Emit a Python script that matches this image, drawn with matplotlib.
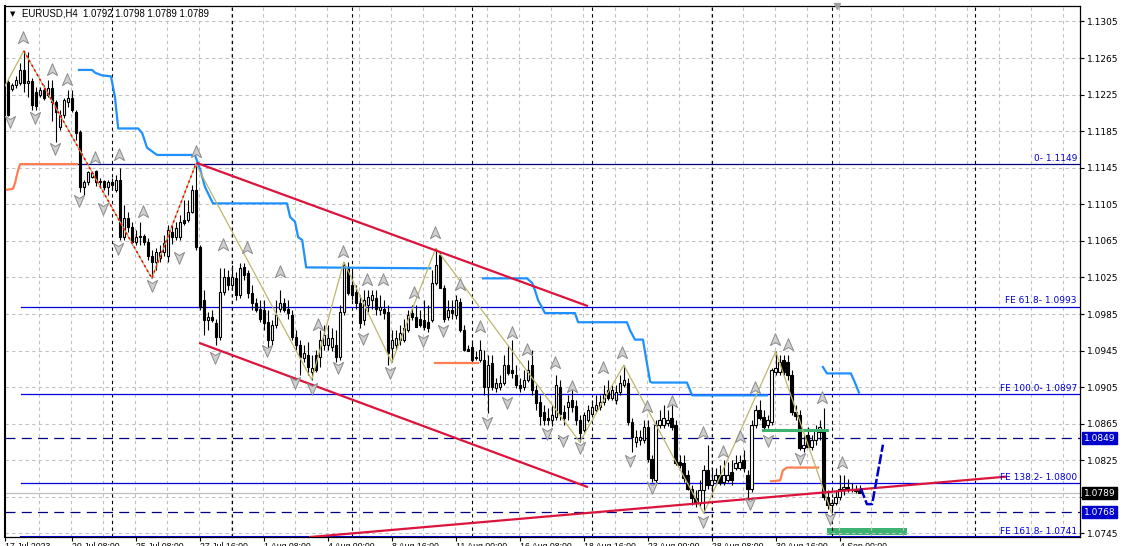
import numpy as np
import matplotlib
matplotlib.use("Agg")
import matplotlib.pyplot as plt
from matplotlib.path import Path
import matplotlib.transforms as mtransforms

W, H = 1122, 546

# ---- EURUSD H4 bars (17 Jul - 4 Sep 2023) ----
opens = [
    1.1239, 1.1231, 1.1235, 1.1238, 1.1252, 1.1238, 1.1240, 1.1228, 1.1225, 1.1230,
    1.1225, 1.1232, 1.1217, 1.1190, 1.1203, 1.1217, 1.1221, 1.1206, 1.1184, 1.1124,
    1.1129, 1.1135, 1.1141, 1.1129, 1.1130, 1.1124, 1.1129, 1.1121, 1.1132, 1.1069,
    1.1090, 1.1080, 1.1064, 1.1069, 1.1070, 1.1064, 1.1048, 1.1042, 1.1046, 1.1053,
    1.1048, 1.1075, 1.1069, 1.1069, 1.1088, 1.1088, 1.1097, 1.1121, 1.1058, 1.1000,
    1.0978, 1.0982, 1.0975, 1.0960, 1.1009, 1.1025, 1.1017, 1.1024, 1.1006, 1.1036,
    1.1030, 1.1008, 1.0997, 1.0991, 1.0989, 1.0976, 1.0957, 1.0973, 1.0991, 1.0997,
    1.0991, 1.0984, 1.0960, 1.0951, 1.0937, 1.0940, 1.0922, 1.0940, 1.0938, 1.0951,
    1.0951, 1.0949, 1.0951, 1.0938, 1.0987, 1.1036, 1.1017, 1.1009, 1.0997, 1.0978,
    1.0995, 1.1000, 1.1002, 1.0989, 1.0991, 1.0987, 1.0948, 1.0951, 1.0957, 1.0957,
    1.0967, 1.0986, 1.0982, 1.0980, 1.0978, 1.0976, 1.0978, 1.1019, 1.1050, 1.1013,
    1.0982, 1.0989, 1.0984, 1.0998, 1.0967, 1.0947, 1.0949, 1.0938, 1.0935, 1.0935,
    1.0905, 1.0931, 1.0904, 1.0905, 1.0910, 1.0929, 1.0924, 1.0918, 1.0907, 1.0905,
    1.0913, 1.0929, 1.0902, 1.0889, 1.0878, 1.0871, 1.0869, 1.0872, 1.0905, 1.0878,
    1.0883, 1.0891, 1.0884, 1.0869, 1.0858, 1.0869, 1.0876, 1.0880, 1.0883, 1.0889,
    1.0902, 1.0893, 1.0891, 1.0900, 1.0907, 1.0910, 1.0867, 1.0845, 1.0847, 1.0847,
    1.0861, 1.0826, 1.0803, 1.0864, 1.0864, 1.0866, 1.0871, 1.0864, 1.0823, 1.0822,
    1.0809, 1.0794, 1.0784, 1.0778, 1.0792, 1.0814, 1.0798, 1.0803, 1.0809, 1.0801,
    1.0803, 1.0812, 1.0816, 1.0816, 1.0825, 1.0809, 1.0794, 1.0864, 1.0880, 1.0872,
    1.0864, 1.0867, 1.0922, 1.0922, 1.0935, 1.0932, 1.0918, 1.0878, 1.0874, 1.0838,
    1.0853, 1.0840, 1.0847, 1.0856, 1.0858, 1.0785, 1.0776, 1.0778, 1.0785, 1.0794,
    1.0796, 1.0794, 1.0792, 1.0792,
]
highs = [
    1.1241, 1.1238, 1.1245, 1.1260, 1.1273, 1.1272, 1.1243, 1.1233, 1.1233, 1.1236,
    1.1241, 1.1241, 1.1219, 1.1208, 1.1221, 1.1230, 1.1230, 1.1208, 1.1186, 1.1132,
    1.1141, 1.1141, 1.1143, 1.1134, 1.1132, 1.1132, 1.1134, 1.1137, 1.1145, 1.1104,
    1.1097, 1.1086, 1.1077, 1.1086, 1.1073, 1.1068, 1.1055, 1.1057, 1.1060, 1.1071,
    1.1082, 1.1082, 1.1086, 1.1093, 1.1110, 1.1110, 1.1126, 1.1149, 1.1060, 1.1011,
    1.0987, 1.0989, 1.0980, 1.1035, 1.1035, 1.1033, 1.1039, 1.1031, 1.1041, 1.1041,
    1.1033, 1.1017, 1.1002, 1.1000, 1.1000, 1.0989, 1.0978, 1.1000, 1.1011, 1.1002,
    1.1000, 1.0989, 1.0967, 1.0957, 1.0951, 1.0954, 1.0940, 1.0946, 1.0967, 1.0973,
    1.0973, 1.0970, 1.0967, 1.0995, 1.1042, 1.1042, 1.1033, 1.1017, 1.1006, 1.1011,
    1.1011, 1.1011, 1.1011, 1.1006, 1.1000, 1.0995, 1.0967, 1.0967, 1.0973, 1.0980,
    1.0989, 1.0995, 1.0995, 1.0989, 1.1000, 1.0995, 1.1033, 1.1057, 1.1053, 1.1017,
    1.1000, 1.1000, 1.1006, 1.1002, 1.0973, 1.0951, 1.0957, 1.0944, 1.0957, 1.0946,
    1.0940, 1.0940, 1.0915, 1.0918, 1.0940, 1.0951, 1.0957, 1.0929, 1.0915, 1.0924,
    1.0935, 1.0946, 1.0907, 1.0896, 1.0885, 1.0882, 1.0885, 1.0918, 1.0913, 1.0885,
    1.0896, 1.0902, 1.0891, 1.0874, 1.0878, 1.0885, 1.0891, 1.0896, 1.0896, 1.0907,
    1.0913, 1.0907, 1.0907, 1.0918, 1.0929, 1.0915, 1.0871, 1.0858, 1.0858, 1.0869,
    1.0869, 1.0831, 1.0869, 1.0880, 1.0885, 1.0880, 1.0885, 1.0869, 1.0831, 1.0831,
    1.0814, 1.0798, 1.0792, 1.0803, 1.0820, 1.0842, 1.0814, 1.0816, 1.0820, 1.0825,
    1.0823, 1.0825, 1.0831, 1.0831, 1.0836, 1.0814, 1.0869, 1.0885, 1.0891, 1.0880,
    1.0874, 1.0926, 1.0944, 1.0940, 1.0940, 1.0940, 1.0924, 1.0885, 1.0880, 1.0853,
    1.0861, 1.0853, 1.0864, 1.0869, 1.0882, 1.0792, 1.0783, 1.0792, 1.0809, 1.0809,
    1.0805, 1.0800, 1.0798, 1.0798,
]
lows = [
    1.1202, 1.1229, 1.1232, 1.1236, 1.1228, 1.1222, 1.1208, 1.1208, 1.1222, 1.1219,
    1.1222, 1.1196, 1.1173, 1.1186, 1.1199, 1.1212, 1.1206, 1.1175, 1.1119, 1.1115,
    1.1126, 1.1134, 1.1125, 1.1123, 1.1121, 1.1115, 1.1121, 1.1119, 1.1066, 1.1066,
    1.1075, 1.1060, 1.1060, 1.1060, 1.1060, 1.1044, 1.1024, 1.1033, 1.1042, 1.1048,
    1.1042, 1.1062, 1.1066, 1.1066, 1.1082, 1.1086, 1.1095, 1.1055, 1.0989, 1.0962,
    1.0967, 1.0976, 1.0951, 1.0957, 1.1006, 1.1011, 1.1013, 1.1000, 1.1002, 1.1022,
    1.1002, 1.0989, 1.0987, 1.0976, 1.0967, 1.0948, 1.0951, 1.0970, 1.0987, 1.0987,
    1.0980, 1.0957, 1.0946, 1.0918, 1.0932, 1.0918, 1.0913, 1.0922, 1.0927, 1.0946,
    1.0946, 1.0944, 1.0932, 1.0935, 1.0984, 1.1006, 1.1000, 1.0991, 1.0970, 1.0973,
    1.0987, 1.0991, 1.0984, 1.0984, 1.0980, 1.0929, 1.0932, 1.0946, 1.0951, 1.0954,
    1.0965, 1.0978, 1.0971, 1.0971, 1.0967, 1.0965, 1.0976, 1.1017, 1.1013, 1.0976,
    1.0978, 1.0980, 1.0980, 1.0965, 1.0944, 1.0944, 1.0935, 1.0935, 1.0932, 1.0896,
    1.0877, 1.0902, 1.0900, 1.0902, 1.0907, 1.0918, 1.0915, 1.0904, 1.0900, 1.0902,
    1.0911, 1.0896, 1.0880, 1.0864, 1.0864, 1.0864, 1.0862, 1.0869, 1.0869, 1.0864,
    1.0869, 1.0878, 1.0864, 1.0845, 1.0856, 1.0867, 1.0874, 1.0878, 1.0880, 1.0885,
    1.0891, 1.0891, 1.0887, 1.0896, 1.0905, 1.0864, 1.0834, 1.0840, 1.0842, 1.0844,
    1.0823, 1.0801, 1.0800, 1.0860, 1.0860, 1.0862, 1.0858, 1.0820, 1.0817, 1.0801,
    1.0792, 1.0776, 1.0774, 1.0775, 1.0767, 1.0794, 1.0790, 1.0798, 1.0798, 1.0798,
    1.0801, 1.0798, 1.0814, 1.0814, 1.0812, 1.0781, 1.0790, 1.0860, 1.0869, 1.0858,
    1.0860, 1.0864, 1.0918, 1.0918, 1.0918, 1.0913, 1.0874, 1.0869, 1.0836, 1.0834,
    1.0839, 1.0836, 1.0842, 1.0847, 1.0781, 1.0772, 1.0767, 1.0776, 1.0781, 1.0787,
    1.0790, 1.0790, 1.0789, 1.0789,
]
closes = [
    1.1203, 1.1235, 1.1241, 1.1252, 1.1238, 1.1240, 1.1214, 1.1213, 1.1230, 1.1221,
    1.1232, 1.1217, 1.1206, 1.1203, 1.1219, 1.1221, 1.1208, 1.1183, 1.1124, 1.1129,
    1.1140, 1.1139, 1.1129, 1.1130, 1.1124, 1.1129, 1.1126, 1.1132, 1.1069, 1.1090,
    1.1080, 1.1064, 1.1069, 1.1070, 1.1064, 1.1048, 1.1042, 1.1053, 1.1053, 1.1063,
    1.1077, 1.1069, 1.1079, 1.1086, 1.1085, 1.1097, 1.1121, 1.1058, 1.0993, 1.0978,
    1.0982, 1.0978, 1.0960, 1.1009, 1.1025, 1.1017, 1.1025, 1.1006, 1.1035, 1.1028,
    1.1008, 1.0997, 1.0989, 1.0980, 1.0975, 1.0957, 1.0973, 1.0984, 1.0997, 1.0989,
    1.0986, 1.0960, 1.0951, 1.0938, 1.0942, 1.0927, 1.0926, 1.0924, 1.0957, 1.0962,
    1.0959, 1.0959, 1.0938, 1.0987, 1.1039, 1.1008, 1.1006, 1.0997, 1.0975, 1.1000,
    1.1004, 1.1006, 1.0991, 1.0993, 1.0986, 1.0942, 1.0957, 1.0959, 1.0964, 1.0970,
    1.0984, 1.0982, 1.0971, 1.0973, 1.0971, 1.0970, 1.1019, 1.1039, 1.1013, 1.0980,
    1.0989, 1.0986, 1.1000, 1.0967, 1.0946, 1.0945, 1.0935, 1.0937, 1.0946, 1.0905,
    1.0929, 1.0905, 1.0910, 1.0910, 1.0929, 1.0921, 1.0920, 1.0907, 1.0904, 1.0913,
    1.0924, 1.0902, 1.0888, 1.0873, 1.0869, 1.0869, 1.0874, 1.0907, 1.0876, 1.0871,
    1.0889, 1.0883, 1.0869, 1.0855, 1.0874, 1.0880, 1.0883, 1.0885, 1.0889, 1.0898,
    1.0893, 1.0902, 1.0900, 1.0910, 1.0913, 1.0867, 1.0850, 1.0850, 1.0850, 1.0861,
    1.0826, 1.0806, 1.0864, 1.0869, 1.0871, 1.0869, 1.0861, 1.0822, 1.0820, 1.0806,
    1.0794, 1.0784, 1.0778, 1.0792, 1.0814, 1.0798, 1.0803, 1.0809, 1.0800, 1.0809,
    1.0809, 1.0803, 1.0822, 1.0823, 1.0816, 1.0794, 1.0864, 1.0880, 1.0871, 1.0861,
    1.0869, 1.0924, 1.0926, 1.0932, 1.0922, 1.0918, 1.0878, 1.0873, 1.0838, 1.0842,
    1.0840, 1.0847, 1.0858, 1.0861, 1.0785, 1.0776, 1.0778, 1.0785, 1.0794, 1.0796,
    1.0794, 1.0792, 1.0791, 1.0789,
]

price_ticks = [1.1305, 1.1265, 1.1225, 1.1185, 1.1145, 1.1105, 1.1065, 1.1025,
               1.0985, 1.0945, 1.0905, 1.0865, 1.0825, 1.0785, 1.0745]

time_pos = [-0.7, 16, 32, 48, 64, 80, 96, 112, 128, 144, 160, 176, 192, 208]
time_labels = ["17 Jul 2023", "20 Jul 08:00", "25 Jul 08:00", "27 Jul 16:00",
               "1 Aug 08:00", "4 Aug 00:00", "8 Aug 16:00", "11 Aug 00:00",
               "16 Aug 08:00", "18 Aug 16:00", "23 Aug 00:00", "28 Aug 08:00",
               "30 Aug 16:00", "4 Sep 00:00"]
week_sep = [26, 56, 86, 116, 146, 176, 206, 241.8]

# fibo expansion levels
fe_levels = [1.1149, 1.0993, 1.0897, 1.0800, 1.0741]
fe_labels = ["0- 1.1149", "FE 61.8- 1.0993", "FE 100.0- 1.0897",
             "FE 138.2- 1.0800", "FE 161.8- 1.0741"]
dashed_levels = [1.0849, 1.0768]
bid = 1.0789

# zigzag
zz_x = [-1.5, 4, 36, 47, 76, 84, 96, 107, 143, 154, 174, 192, 206]
zz_y = [1.1228, 1.1273, 1.1024, 1.1149, 1.0913, 1.1042, 1.0932, 1.1057,
        1.0845, 1.0929, 1.0767, 1.0944, 1.0767]

# trailing step line (blue)
blue1_x = [17.8, 21.1, 21.8, 23.6, 25.8, 26.8, 27.6, 32.6, 33.6, 34.8, 37.3,
           46.8, 48.1, 49.3, 51.3, 69.8, 70.6, 71.8, 72.6, 73.6, 74.6, 105.6]
blue1_y = [1.1252, 1.1252, 1.1249, 1.1246, 1.1245, 1.1222, 1.1188, 1.1188,
           1.1183, 1.1167, 1.1159, 1.1159, 1.1143, 1.1124, 1.1106, 1.1106,
           1.1091, 1.1086, 1.1069, 1.1066, 1.1036, 1.1035]
blue2_x = [118.8, 129.8, 131.1, 131.8, 132.6, 133.6, 134.3, 141.8, 142.6, 154.8,
           155.6, 156.8, 158.8, 159.8, 160.6, 161.1, 169.8, 171.1, 189.8]
blue2_y = [1.1024, 1.1024, 1.1019, 1.1011, 1.1000, 1.0992, 1.0986, 1.0986,
           1.0976, 1.0976, 1.0967, 1.0957, 1.0957, 1.0931, 1.0911, 1.0910,
           1.0910, 1.0896, 1.0896]
blue3_x = [203.8, 204.8, 210.8, 211.8, 212.8]
blue3_y = [1.0927, 1.0920, 1.0920, 1.0910, 1.0899]

orange1_x = [-0.2, 1.3, 1.8, 2.6, 3.1, 17.3]
orange1_y = [1.1121, 1.1122, 1.1128, 1.1143, 1.1149, 1.1149]
orange2_x = [106.8, 117.6]
orange2_y = [1.0931, 1.0931]
orange3_x = [190.8, 193.1, 193.8, 194.8, 202.6]
orange3_y = [1.0802, 1.0803, 1.0814, 1.0817, 1.0817]

green_x = [188.8, 204.8]
green_y = [1.0858, 1.0858]
zone_x = [204.8, 224.8]
zone_y = [1.0743, 1.0751]

chan_up = ([47.4, 144.8], [1.1150, 1.0994])
chan_dn = ([48.1, 144.8], [1.0953, 1.0796])
rise_line = ([75.6, 249.4], [1.0741, 1.0807])
proj_x = [213.3, 214.8, 216.1, 218.8]
proj_y = [1.0794, 1.0777, 1.0777, 1.0842]

up_x = [3.8, 11.1, 14.8, 21.8, 27.8, 33.8, 47.1, 53.8, 59.8, 68.1, 77.6, 83.8,
        89.8, 93.8, 101.6, 106.8, 113.1, 118.1, 126.1, 129.8, 136.8, 141.1,
        148.8, 153.6, 159.8, 166.1, 173.8, 178.8, 183.1, 186.8, 191.8, 195.1,
        203.6, 208.6]
up_y = [1.1287, 1.1252, 1.1241, 1.1156, 1.1159, 1.1097, 1.1162, 1.1060,
        1.1057, 1.1031, 1.0973, 1.1053, 1.1022, 1.1022, 1.1008, 1.1074,
        1.1017, 1.0971, 1.0964, 1.0946, 1.0931, 1.0905, 1.0926, 1.0942,
        1.0883, 1.0889, 1.0855, 1.0834, 1.0850, 1.0904, 1.0957, 1.0951,
        1.0893, 1.0822]
dn_x = [0.6, 6.8, 11.8, 17.8, 23.8, 27.6, 36.1, 42.8, 51.8, 64.8, 71.8, 76.1,
        82.6, 88.8, 95.6, 103.8, 108.8, 119.8, 124.8, 134.8, 138.8, 143.1,
        155.6, 161.1, 173.8, 185.6, 190.1, 198.1, 205.6]
dn_y = [1.1196, 1.1201, 1.1167, 1.1110, 1.1101, 1.1057, 1.1017, 1.1047,
        1.0938, 1.0946, 1.0911, 1.0904, 1.0927, 1.0959, 1.0922, 1.0957,
        1.0967, 1.0867, 1.0889, 1.0855, 1.0847, 1.0840, 1.0825, 1.0796,
        1.0759, 1.0778, 1.0847, 1.0827, 1.0762]

# ---------------------------------------------------------------
fig = plt.figure(figsize=(W / 100, H / 100), dpi=100)
ax = fig.add_axes([5 / W, 9 / H, 1075 / W, 531 / H])
ax.set_xlim((5 - 7.7) / 4, (1080 - 7.7) / 4)
ax.set_ylim(1.1305 - (537 - 21.5) * 0.0001094, 1.1305 + (21.5 - 6) * 0.0001094)

grid_kw = dict(color="#c0c0c0", lw=0.8, ls=(0, (3, 3)), zorder=0.5)
for p in price_ticks:
    ax.axhline(p, **grid_kw)
for gx in np.arange(8, 268, 8) - 0.2:
    ax.axvline(gx, **grid_kw)
for sx in week_sep:
    ax.axvline(sx, color="black", lw=0.8, ls=(0, (3, 3)), zorder=0.6)

# levels
for i, (lv, lab) in enumerate(zip(fe_levels, fe_labels)):
    col = "#000080" if i == 0 else "#0000e0"
    ax.plot([3.2, 300], [lv, lv], color=col, lw=1.5 if i == 4 else 0.9, zorder=1.5)
    ax.annotate(lab, (267.3, lv), xytext=(0, 1), textcoords="offset points",
                ha="right", va="bottom", color="#0000e0", fontsize=6.5, zorder=6)
for lv in dashed_levels:
    ax.axhline(lv, color="#000080", lw=0.9, ls=(0, (8, 5)), zorder=1.5)
ax.axhline(bid, color="#c0c0c0", lw=0.9, zorder=1.4)

# green zone
ax.fill_between(zone_x, zone_y[0], zone_y[1], color="#3cb371", lw=0, zorder=0.4)

# candles
o, h, l, c = map(np.array, (opens, highs, lows, closes))
idx = np.arange(len(c))
ax.vlines(idx, l, h, color="black", lw=0.8, zorder=3)
bull = c >= o
ax.bar(idx[bull], np.maximum(c[bull] - o[bull], 0.00003), bottom=o[bull], width=0.62,
       facecolor="white", edgecolor="black", lw=0.8, zorder=3.2)
ax.bar(idx[~bull], o[~bull] - c[~bull], bottom=c[~bull], width=0.62,
       facecolor="black", edgecolor="black", lw=0.8, zorder=3.2)

# indicators
for bx, by in ((blue1_x, blue1_y), (blue2_x, blue2_y), (blue3_x, blue3_y)):
    ax.plot(bx, by, color="#1e90ff", lw=1.6, zorder=4)
for ox, oy in ((orange1_x, orange1_y), (orange2_x, orange2_y), (orange3_x, orange3_y)):
    ax.plot(ox, oy, color="#ff7f50", lw=1.6, zorder=4)
ax.plot(green_x, green_y, color="#3cb371", lw=2.2, zorder=4)

# zigzag
ax.plot(zz_x, zz_y, color="#bdb76b", lw=0.9, zorder=4.2)
ax.plot(zz_x[1:4], zz_y[1:4], color="red", lw=1.1, ls=(0, (1.5, 2)), zorder=4.3)

# trend lines
for tx, ty in (chan_up, chan_dn, rise_line):
    ax.plot(tx, ty, color="#dc143c", lw=1.6, zorder=4.5)
ax.plot(proj_x, proj_y, color="#0000cd", lw=1.8, ls=(0, (4, 1)), zorder=4.5)

# fractal arrows
up_mark = Path([(0, 1), (0.75, -0.75), (0, -0.3), (-0.75, -0.75), (0, 1)],
               [Path.MOVETO, Path.LINETO, Path.LINETO, Path.LINETO, Path.CLOSEPOLY])
dn_mark = Path([(0, -1), (0.75, 0.75), (0, 0.3), (-0.75, 0.75), (0, -1)],
               [Path.MOVETO, Path.LINETO, Path.LINETO, Path.LINETO, Path.CLOSEPOLY])
ax.scatter(up_x, up_y, marker=up_mark, s=95, facecolor="#cfcfcf",
           edgecolor="#8a8a8a", lw=0.7, zorder=5)
ax.scatter(dn_x, dn_y, marker=dn_mark, s=95, facecolor="#cfcfcf",
           edgecolor="#8a8a8a", lw=0.7, zorder=5)

# chart shift marker
ax.plot([207.2], [ax.get_ylim()[1]], marker="v", ms=5, color="#a0a0a0",
        clip_on=False, zorder=6)

# axes styling
for s in ax.spines.values():
    s.set_color("black")
    s.set_linewidth(0.9)
ax.spines["left"].set_linewidth(1.5)
ax.yaxis.tick_right()
ax.set_yticks(price_ticks)
ax.set_yticklabels([f"{p:.4f}" for p in price_ticks])
ax.tick_params(axis="y", length=3, width=0.8, pad=2, labelsize=6.5, colors="black")
ax.set_xticks(time_pos)
ax.set_xticklabels(time_labels, ha="left", fontfamily="Liberation Sans")
ax.tick_params(axis="x", length=3, width=0.8, pad=0.5, labelsize=6.3)

trans = mtransforms.blended_transform_factory(ax.transAxes, ax.transData)
for lv, bg in ((1.0849, "#0000cd"), (bid, "black"), (1.0768, "#0000cd")):
    ax.text(1.0035, lv, f"{lv:.4f}", transform=trans, ha="left", va="center",
            fontsize=6.5, color="white", clip_on=False, zorder=10,
            bbox=dict(boxstyle="square,pad=0.18", fc=bg, ec=bg))

fig.text(13 / W, 1 - 14 / H, "\u25bc", fontsize=5, ha="center", va="center")
fig.text(22 / W, 1 - 14 / H, "EURUSD,H4  1.0792 1.0798 1.0789 1.0789",
         fontsize=6.9, ha="left", va="center", family="Liberation Sans")

fig.savefig("out.png", dpi=100, facecolor="white")
